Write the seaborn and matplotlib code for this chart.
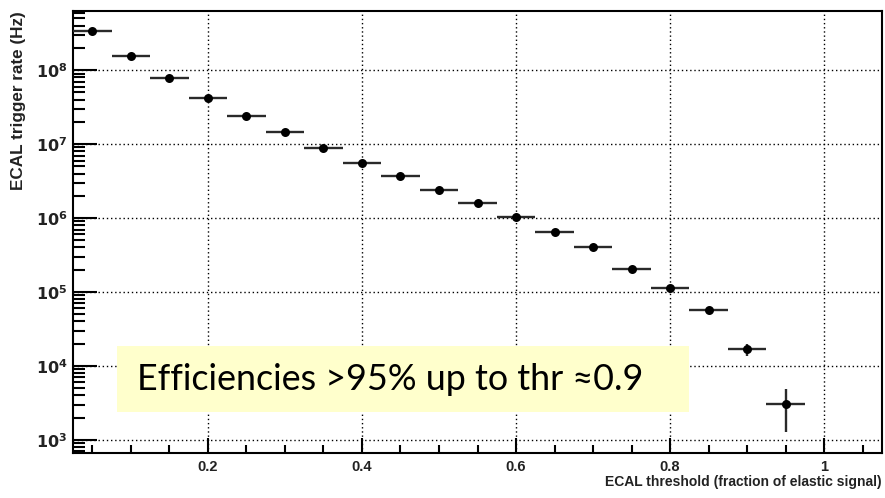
import matplotlib
matplotlib.use("Agg")
import matplotlib.pyplot as plt
from matplotlib.patches import Rectangle
from matplotlib.ticker import LogLocator, FixedLocator, MultipleLocator, NullFormatter
import numpy as np
import pandas as pd
import seaborn as sns

# ECAL threshold (fraction of elastic signal), bin centres
threshold = [0.05, 0.10, 0.15, 0.20, 0.25, 0.30, 0.35, 0.40, 0.45, 0.50,
             0.55, 0.60, 0.65, 0.70, 0.75, 0.80, 0.85, 0.90, 0.95]
# trigger rate (Hz)
rate = [3.4e8, 1.55e8, 7.8e7, 4.2e7, 2.4e7, 1.45e7, 8.9e6, 5.6e6, 3.7e6, 2.4e6,
        1.6e6, 1.04e6, 6.5e5, 4.0e5, 2.05e5, 1.12e5, 5.8e4, 1.68e4, 3.1e3]
rate_err = [0, 0, 0, 0, 0, 0, 0, 0, 0, 0,
            0, 0, 0, 0, 0, 4e3, 2e3, 3e3, 1.8e3]
bin_half = 0.025
y_decades = [1e3, 1e4, 1e5, 1e6, 1e7, 1e8]

note = "Efficiencies >95% up to thr \u22480.9"

df = pd.DataFrame({"threshold": threshold, "rate": rate, "err": rate_err})

sns.set_theme(style="ticks")
plt.rcParams["font.family"] = ["Liberation Sans", "DejaVu Sans"]

fig = plt.figure(figsize=(8.85, 4.98), dpi=100)
ax = fig.add_axes([0.0825, 0.0904, 0.9141, 0.8876])

# dotted grid at major ticks
ax.grid(True, which="major", color="black", linestyle=(0, (1, 2)), linewidth=1.0)

ax.errorbar(df["threshold"], df["rate"], xerr=bin_half, yerr=df["err"],
            fmt="none", ecolor="#2a2a2a", elinewidth=1.7, capsize=0, zorder=3)
sns.scatterplot(data=df, x="threshold", y="rate", ax=ax, color="black",
                s=42, edgecolor="black", linewidth=0, zorder=4, legend=False)

ax.set_yscale("log")
ax.set_xlim(0.025, 1.075)
ax.set_ylim(10 ** 2.824, 10 ** 8.80)

ax.xaxis.set_major_locator(FixedLocator([0.2, 0.4, 0.6, 0.8, 1.0]))
ax.xaxis.set_minor_locator(MultipleLocator(0.05))
ax.set_xticklabels(["0.2", "0.4", "0.6", "0.8", "1"])
ax.yaxis.set_major_locator(FixedLocator(y_decades))
ax.set_yticklabels([f"$\\mathbf{{10^{{{int(np.log10(v))}}}}}$" for v in y_decades])
ax.yaxis.set_minor_locator(LogLocator(base=10, subs=np.arange(2, 10), numticks=12))
ax.yaxis.set_minor_formatter(NullFormatter())

ax.tick_params(axis="both", which="both", direction="in", color="black", width=1.5)
ax.tick_params(axis="x", which="major", length=11, pad=5, labelsize=10.5)
ax.tick_params(axis="x", which="minor", length=5.5)
ax.tick_params(axis="y", which="major", length=17, pad=4, labelsize=11.5)
ax.tick_params(axis="y", which="minor", length=8.5)
for lab in ax.get_xticklabels() + ax.get_yticklabels():
    lab.set_fontweight("bold")
    lab.set_color("#222222")

for sp in ax.spines.values():
    sp.set_visible(True)
    sp.set_color("black")
    sp.set_linewidth(1.5)

ax.set_xlabel("ECAL threshold (fraction of elastic signal)", fontsize=10,
              fontweight="bold", color="#222222", loc="right", labelpad=1)
ax.set_ylabel("ECAL trigger rate (Hz)", fontsize=12.3, fontweight="bold",
              color="#222222", loc="top", labelpad=7)

# yellow annotation box
fig.patches.append(Rectangle((0.1322, 0.1727), 0.6463, 0.1325,
                             transform=fig.transFigure, facecolor="#FFFFCC",
                             edgecolor="none", zorder=5))
fig.text(0.1548, 0.2385, note, fontsize=25.8, family=["Lato", "DejaVu Sans"],
         color="black", va="center", ha="left", zorder=6)

fig.savefig("out.png", dpi=100)
